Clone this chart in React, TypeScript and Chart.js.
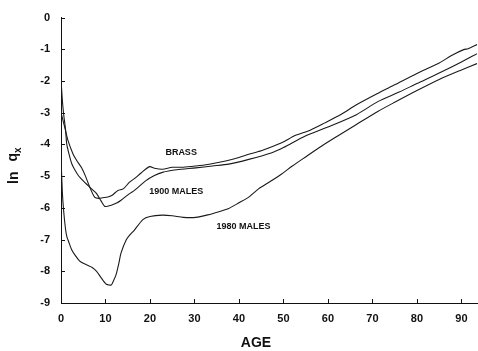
import React, { useEffect, useRef } from "react";
import { Chart, registerables } from "chart.js";

Chart.register(...registerables);

const brassAges = [0, 0.5, 1, 1.6, 2.7, 3.5, 4.6, 5.5, 6.5, 7.6, 8.5, 9.4, 10.5, 11.5, 12.8, 14, 15.4, 16.5, 18, 19.9, 21, 22.8, 25, 27.5, 30.3, 33, 37, 40, 42.2, 45, 49.6, 52.6, 56, 59.3, 63, 66.4, 71.2, 75, 80, 85, 88, 90.5, 91.5, 93.5];
const brassValues = [-3.0, -3.27, -3.55, -3.89, -4.3, -4.5, -4.73, -5.0, -5.36, -5.67, -5.7, -5.68, -5.66, -5.6, -5.45, -5.4, -5.19, -5.08, -4.9, -4.7, -4.75, -4.78, -4.72, -4.72, -4.68, -4.63, -4.52, -4.41, -4.31, -4.2, -3.95, -3.72, -3.55, -3.32, -3.05, -2.75, -2.39, -2.12, -1.76, -1.43, -1.18, -1.01, -0.98, -0.85];

const m1900Ages = [0, 0.3, 0.6, 1, 1.3, 1.8, 2.4, 3.1, 3.9, 5, 6.1, 7, 8, 9, 9.8, 10.5, 11.3, 12.5, 13.5, 15.4, 16.5, 19.1, 21, 22.8, 26, 30.3, 34, 37.7, 42.2, 47.4, 50, 54.8, 60, 66.4, 71.2, 76, 80, 85, 90, 93.5];
const m1900Values = [-1.93, -2.6, -3.05, -3.5, -4.0, -4.3, -4.6, -4.8, -4.98, -5.15, -5.3, -5.42, -5.55, -5.78, -5.95, -5.95, -5.92, -5.85, -5.76, -5.55, -5.45, -5.14, -4.98, -4.88, -4.8, -4.74, -4.68, -4.62, -4.47, -4.26, -4.1, -3.74, -3.45, -3.06, -2.65, -2.35, -2.08, -1.75, -1.4, -1.14];

const m1980Ages = [0, 0.3, 0.6, 1, 1.3, 1.8, 2.4, 3.2, 4.2, 5, 6.1, 7, 8, 9, 10.2, 11.3, 11.8, 12.4, 13, 13.5, 14.7, 15.5, 16.5, 18.4, 20, 22.8, 25, 27.5, 30.3, 33, 35.5, 37.7, 40, 42.2, 44.4, 47, 49.6, 52, 54.8, 58.6, 62, 66.4, 71.2, 75, 80, 85, 90, 93.5];
const m1980Values = [-4.4, -5.5, -6.1, -6.65, -6.9, -7.1, -7.32, -7.5, -7.68, -7.75, -7.82, -7.88, -8.0, -8.2, -8.41, -8.43, -8.3, -8.1, -7.75, -7.42, -7.0, -6.85, -6.7, -6.37, -6.27, -6.23, -6.25, -6.3, -6.3, -6.22, -6.12, -6.02, -5.84, -5.66, -5.4, -5.17, -4.93, -4.68, -4.41, -4.05, -3.75, -3.37, -2.96, -2.67, -2.3, -1.95, -1.65, -1.45];

const seriesNames = ["BRASS", "1900 MALES", "1980 MALES"];
const xTickValues = [0, 10, 20, 30, 40, 50, 60, 70, 80, 90];
const yTickValues = [0, -1, -2, -3, -4, -5, -6, -7, -8, -9];

const FONT = '"Liberation Sans", Arial, Helvetica, sans-serif';

const toPoints = (ages: number[], vals: number[]) => ages.map((a, i) => ({ x: a, y: vals[i] }));

const decorPlugin = {
  id: "decor",
  afterDraw(chart: any) {
    const ctx = chart.ctx;
    const xs = chart.scales.x;
    const ys = chart.scales.y;
    const area = chart.chartArea;
    ctx.save();
    ctx.strokeStyle = "#111";
    ctx.lineWidth = 1;
    // inside tick marks
    ctx.beginPath();
    xTickValues.forEach((v) => {
      const px = Math.round(xs.getPixelForValue(v)) + 0.5;
      ctx.moveTo(px, area.bottom);
      ctx.lineTo(px, area.bottom - 4);
    });
    yTickValues.forEach((v) => {
      const py = Math.round(ys.getPixelForValue(v)) + 0.5;
      ctx.moveTo(area.left, py);
      ctx.lineTo(area.left + 4, py);
    });
    ctx.stroke();

    // curve labels
    ctx.fillStyle = "#111";
    ctx.font = `bold 9px ${FONT}`;
    ctx.textAlign = "center";
    ctx.textBaseline = "middle";
    const labelPos = [
      [27, -4.25],
      [25.9, -5.5],
      [41, -6.59],
    ];
    seriesNames.forEach((n, i) => {
      ctx.fillText(n, xs.getPixelForValue(labelPos[i][0]), ys.getPixelForValue(labelPos[i][1]));
    });

    // x title
    ctx.font = `bold 14px ${FONT}`;
    ctx.fillText("AGE", 256, 343);

    // y title (rotated)
    ctx.save();
    ctx.translate(14, 165);
    ctx.rotate(-Math.PI / 2);
    ctx.textAlign = "left";
    ctx.textBaseline = "middle";
    ctx.font = `bold 14px ${FONT}`;
    const lnW = ctx.measureText("ln").width;
    const qW = ctx.measureText("q").width;
    const total = lnW + 10 + qW + 7;
    let cx = -total / 2;
    ctx.fillText("ln", cx, 0);
    cx += lnW + 10;
    ctx.fillText("q", cx, -1);
    cx += qW;
    ctx.font = `bold 10px ${FONT}`;
    ctx.fillText("x", cx, 4);
    ctx.restore();

    ctx.restore();
  },
};

export default function App() {
  const ref = useRef<HTMLCanvasElement | null>(null);
  useEffect(() => {
    if (!ref.current) return;
    const lineStyle = {
      borderColor: "#1a1a1a",
      borderWidth: 1.1,
      pointRadius: 0,
      tension: 0.25,
      fill: false,
    };
    const chart = new Chart(ref.current, {
      type: "line",
      data: {
        datasets: [
          { label: seriesNames[0], data: toPoints(brassAges, brassValues), ...lineStyle },
          { label: seriesNames[1], data: toPoints(m1900Ages, m1900Values), ...lineStyle },
          { label: seriesNames[2], data: toPoints(m1980Ages, m1980Values), ...lineStyle },
        ],
      },
      options: {
        animation: false,
        responsive: false,
        maintainAspectRatio: false,
        layout: { padding: { top: 15, right: 1, left: 0, bottom: 0 } },
        plugins: { legend: { display: false }, tooltip: { enabled: false } },
        scales: {
          x: {
            type: "linear",
            min: 0,
            max: 93.5,
            afterBuildTicks: (s: any) => {
              s.ticks = xTickValues.map((v) => ({ value: v }));
            },
            afterFit: (s: any) => {
              s.height = 48;
            },
            grid: { display: false, drawTicks: false },
            border: { display: true, color: "#111", width: 1 },
            ticks: {
              padding: 9,
              color: "#111",
              font: { family: FONT, size: 11, weight: "bold" },
              maxRotation: 0,
              autoSkip: false,
            },
          },
          y: {
            type: "linear",
            min: -9,
            max: 0,
            afterBuildTicks: (s: any) => {
              s.ticks = yTickValues.map((v) => ({ value: v }));
            },
            afterFit: (s: any) => {
              s.width = 61;
            },
            grid: { display: false, drawTicks: false },
            border: { display: true, color: "#111", width: 1 },
            ticks: {
              padding: 11,
              color: "#111",
              font: { family: FONT, size: 11, weight: "bold" },
              autoSkip: false,
            },
          },
        },
      },
      plugins: [decorPlugin],
    } as any);
    return () => chart.destroy();
  }, []);
  return (
    <div style={{ position: "fixed", left: 0, top: 0, width: 478, height: 351, background: "#fff" }}>
      <canvas ref={ref} width={478} height={351} style={{ width: 478, height: 351 }} />
    </div>
  );
}
